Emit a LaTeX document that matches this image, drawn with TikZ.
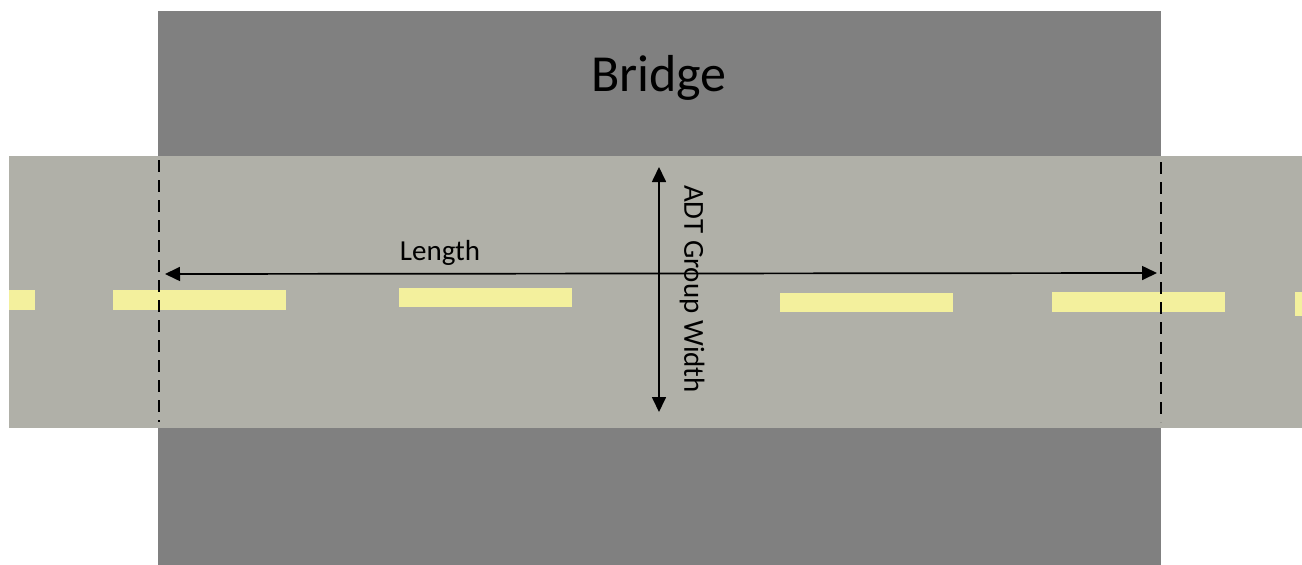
\documentclass[tikz,border=0pt]{standalone}
\usepackage{fontspec}
\setmainfont{Carlito}
\usetikzlibrary{arrows.meta}
\definecolor{bridgegray}{HTML}{808080}
\definecolor{roadgray}{HTML}{B0B0A8}
\definecolor{laneyellow}{HTML}{F3F09D}
\tikzset{
  dimarrow/.style={line width=1.7pt,{Triangle[length=15pt,width=14pt]}-{Triangle[length=15pt,width=14pt]}},
  edgeline/.style={line width=2.3pt,dash pattern=on 12pt off 8pt},
  lane/.style={fill=laneyellow,draw=none},
}
\begin{document}
\begin{tikzpicture}[x=1pt,y=-1pt]
\useasboundingbox (0,0) rectangle (1302,565);
% bridge
\fill[bridgegray] (158,11) rectangle (1161,565);
% road
\fill[roadgray] (9,156) rectangle (1302,428);
% lane markings
\fill[lane] (9,290) rectangle (35,310);
\fill[lane] (113,290) rectangle (286,310);
\fill[lane] (399,288) rectangle (572,307);
\fill[lane] (780,293) rectangle (953,312);
\fill[lane] (1052,292) rectangle (1225,312);
\fill[lane] (1295,292) rectangle (1302,316);
% bridge edge lines
\coordinate (lt) at (159,160);
\coordinate (lb) at (159,422);
\coordinate (rt) at (1161,162);
\coordinate (rb) at (1161,422);
\draw[edgeline] (lt) -- (lb);
\draw[edgeline] (rt) -- (rb);
% dimension arrows
\coordinate (la) at (165,274);
\coordinate (ra) at (1157,273);
\draw[dimarrow] (la) -- (ra);
\coordinate (wt) at (659,167);
\coordinate (wb) at (659,412);
\draw[dimarrow] (wt) -- (wb);
% labels
\node[font=\fontsize{52}{60}\selectfont] (bridge) at (659,78) {Bridge};
\node[font=\fontsize{29}{34}\selectfont] (length) at (440,253) {Length};
\node[font=\fontsize{29}{34}\selectfont,rotate=-90] (width) at (692,289) {ADT Group Width};
\end{tikzpicture}
\end{document}
